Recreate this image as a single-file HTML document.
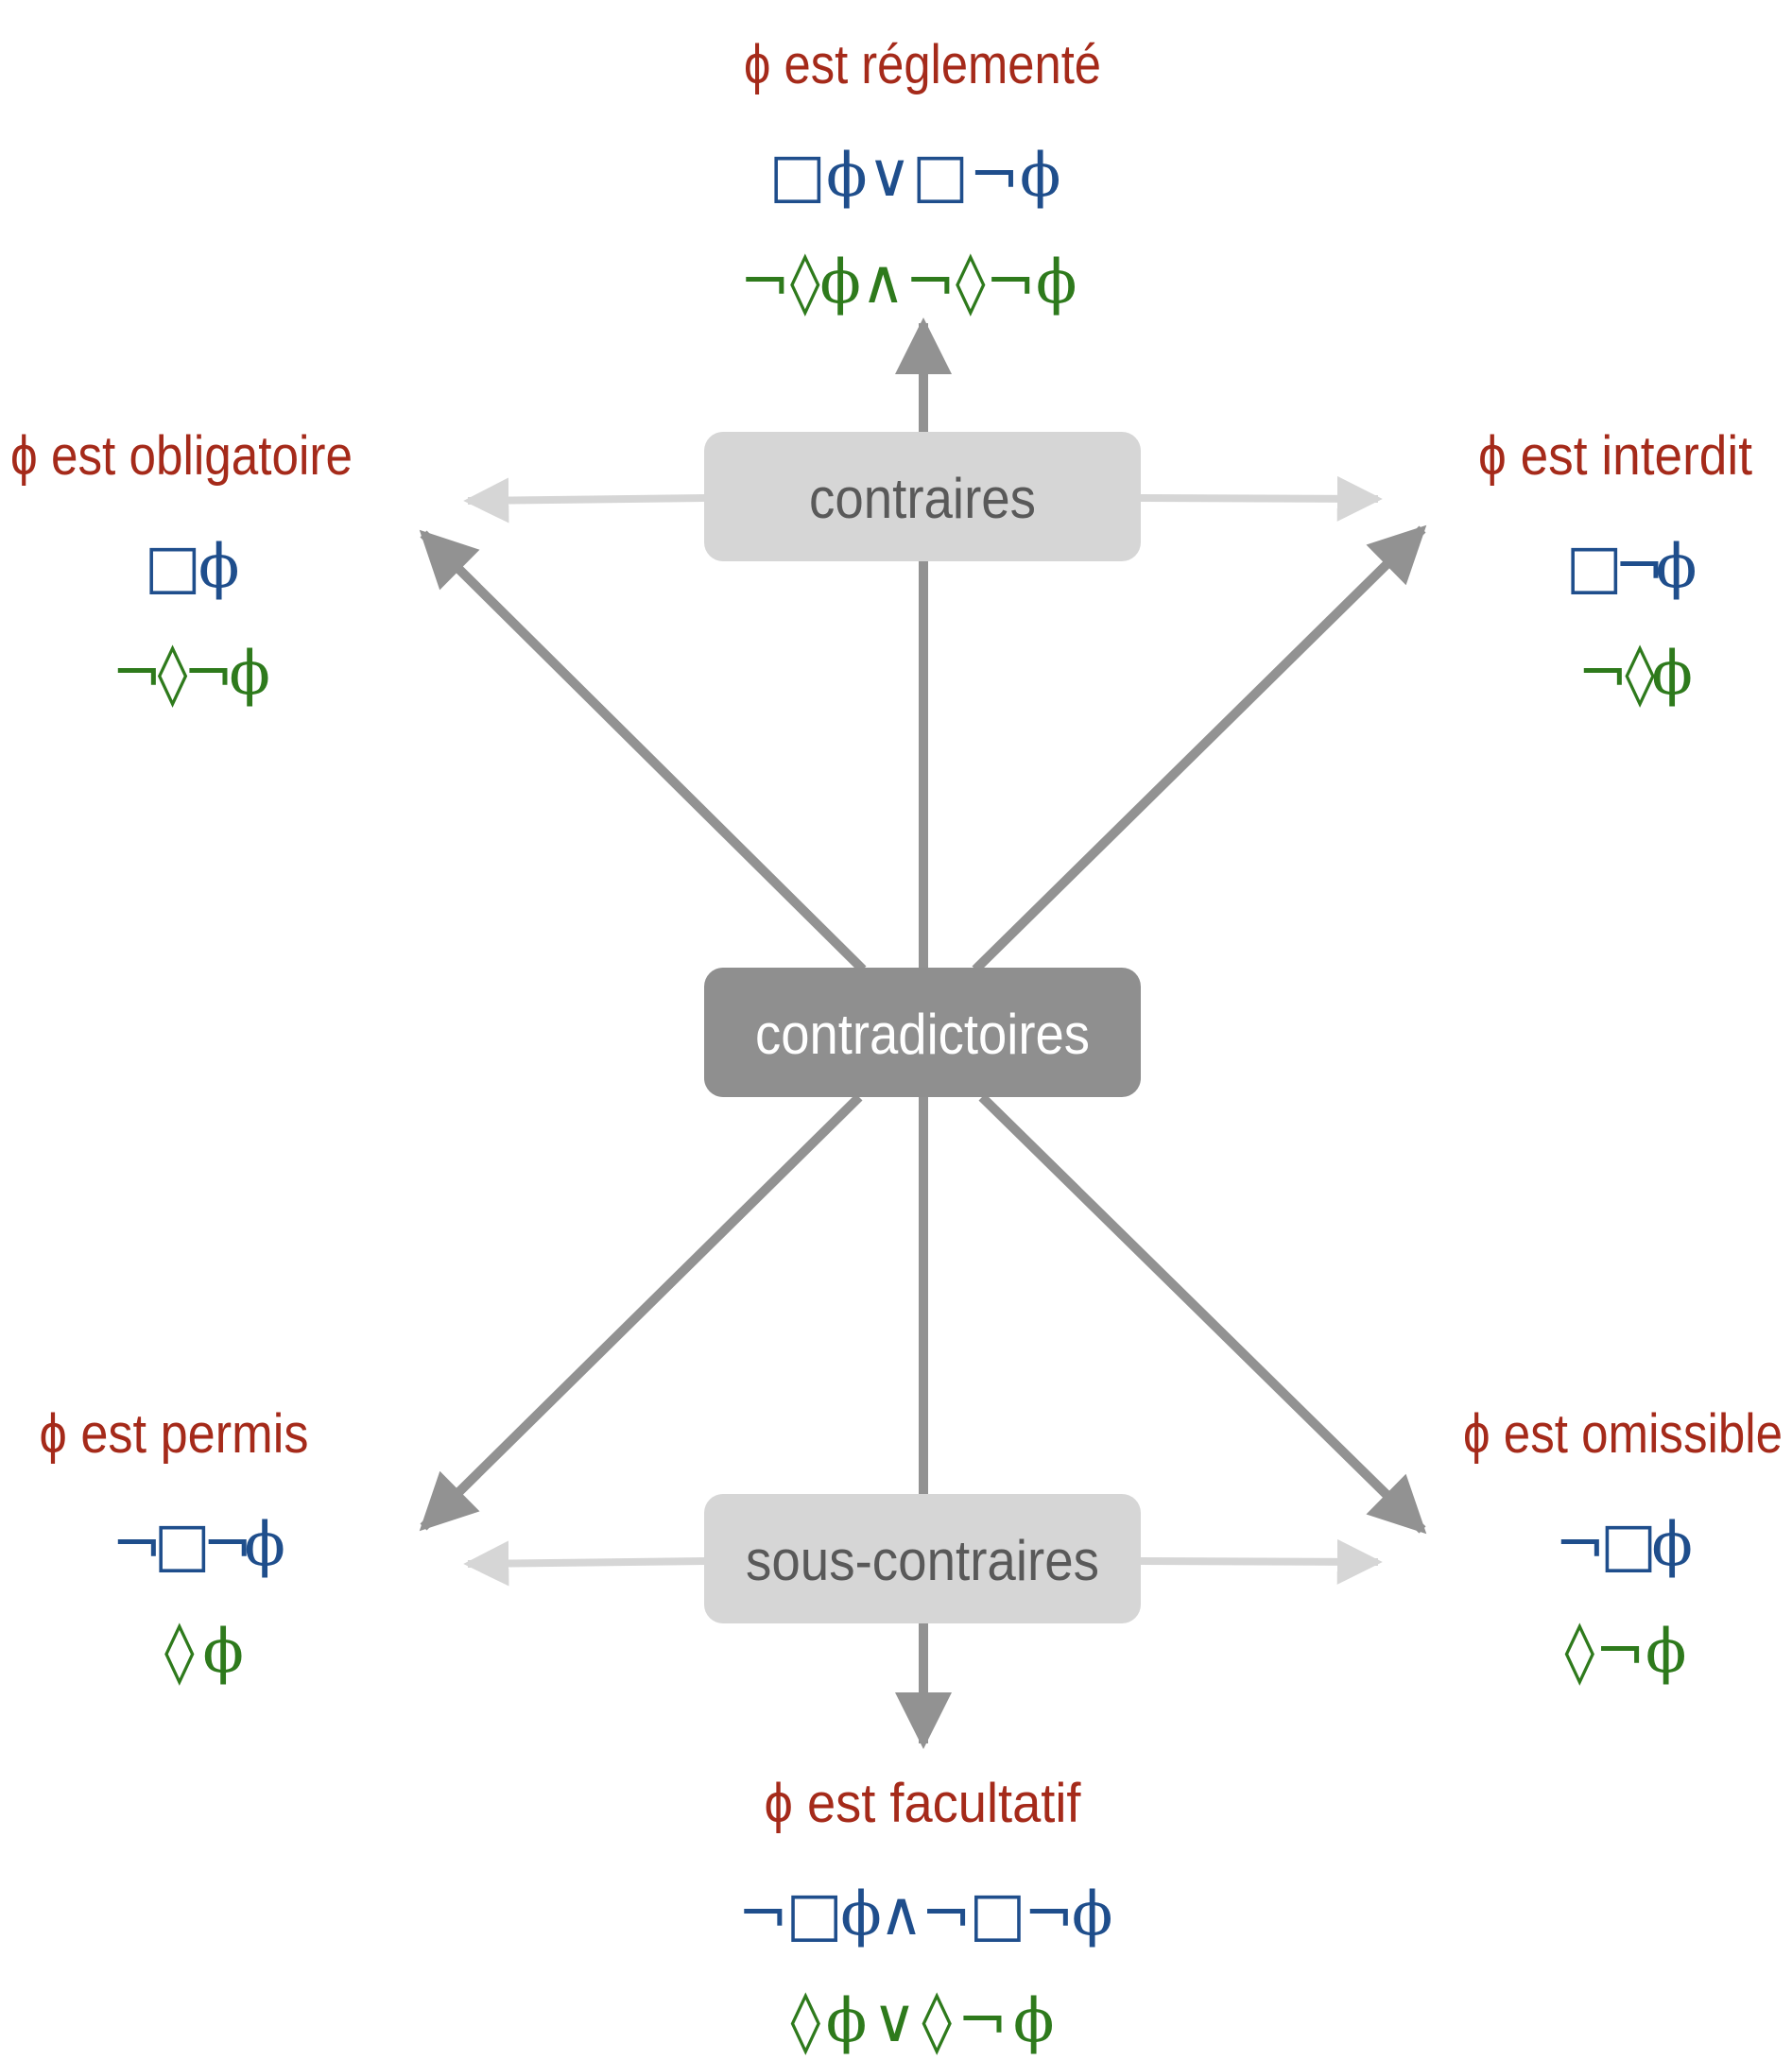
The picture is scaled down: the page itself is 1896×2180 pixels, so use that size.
<!DOCTYPE html>
<html><head><meta charset="utf-8"><style>
html,body{margin:0;padding:0;background:#fff;}
svg{display:block}
.r{fill:#a52a1a;font-family:"Liberation Sans Narrow","Liberation Sans",sans-serif;font-size:58px;}
.b{fill:#1f4e8c;font-family:"DejaVu Serif","Liberation Serif",serif;font-size:64px;}
.g{fill:#2e7a1c;font-family:"DejaVu Serif","Liberation Serif",serif;font-size:64px;}
.bx{font-family:"Liberation Sans Narrow","Liberation Sans",sans-serif;font-size:60px;}
</style></head><body>
<svg width="1896" height="2180" viewBox="0 0 1896 2180" xmlns="http://www.w3.org/2000/svg">
<defs>
<marker id="hd" viewBox="0 0 10 10" refX="9" refY="5" markerWidth="7" markerHeight="6" markerUnits="strokeWidth" orient="auto"><path d="M0,0 L10,5 L0,10 Z" fill="#929292"/></marker>
<marker id="hl" viewBox="0 0 10 10" refX="9" refY="5" markerWidth="6" markerHeight="6" markerUnits="strokeWidth" orient="auto"><path d="M0,0 L10,5 L0,10 Z" fill="#d6d6d6"/></marker>
</defs>
<g stroke="#d6d6d6" stroke-width="8" fill="none">
<line x1="747" y1="527" x2="495" y2="530" marker-end="url(#hl)"/>
<line x1="1207" y1="527" x2="1458" y2="528" marker-end="url(#hl)"/>
<line x1="747" y1="1652" x2="495" y2="1655" marker-end="url(#hl)"/>
<line x1="1207" y1="1652" x2="1458" y2="1653" marker-end="url(#hl)"/>
</g>
<g stroke="#929292" stroke-width="10" fill="none">
<line x1="977" y1="457" x2="977" y2="342" marker-end="url(#hd)"/>
<line x1="977" y1="594" x2="977" y2="1026"/>
<line x1="977" y1="1161" x2="977" y2="1584"/>
<line x1="977" y1="1717" x2="977" y2="1845" marker-end="url(#hd)"/>
<line x1="913" y1="1026" x2="448" y2="565" marker-end="url(#hd)"/>
<line x1="1032" y1="1026" x2="1505" y2="560" marker-end="url(#hd)"/>
<line x1="909" y1="1161" x2="448" y2="1616" marker-end="url(#hd)"/>
<line x1="1039" y1="1161" x2="1505" y2="1619" marker-end="url(#hd)"/>
</g>
<g><rect x="745" y="457" width="462" height="137" rx="20" fill="#d6d6d6"/><text class="bx" x="976" y="548" text-anchor="middle" fill="#595959" textLength="240" lengthAdjust="spacingAndGlyphs">contraires</text></g>
<g><rect x="745" y="1024" width="462" height="137" rx="20" fill="#8f8f8f"/><text class="bx" x="976" y="1115" text-anchor="middle" fill="#fff" textLength="354" lengthAdjust="spacingAndGlyphs">contradictoires</text></g>
<g><rect x="745" y="1581" width="462" height="137" rx="20" fill="#d6d6d6"/><text class="bx" x="976" y="1672" text-anchor="middle" fill="#595959" textLength="374" lengthAdjust="spacingAndGlyphs">sous-contraires</text></g>

<g text-anchor="middle">
<g>
<text class="r" x="976" y="88" textLength="378" lengthAdjust="spacingAndGlyphs">ϕ est réglementé</text>
<text class="b" x="968" y="207" textLength="309" lengthAdjust="spacing">□ϕ∨□¬ϕ</text>
<text class="g" x="961" y="320" textLength="357" lengthAdjust="spacing">¬◊ϕ∧¬◊¬ϕ</text></g>
<g>
<text class="r" x="192" y="502" textLength="362" lengthAdjust="spacingAndGlyphs">ϕ est obligatoire</text>
<text class="b" x="203" y="621" textLength="101" lengthAdjust="spacing">□ϕ</text>
<text class="g" x="202" y="734" textLength="168" lengthAdjust="spacing">¬◊¬ϕ</text></g>
<g>
<text class="r" x="1709" y="502" textLength="290" lengthAdjust="spacingAndGlyphs">ϕ est interdit</text>
<text class="b" x="1726" y="621" textLength="139" lengthAdjust="spacing">□¬ϕ</text>
<text class="g" x="1730" y="734" textLength="122" lengthAdjust="spacing">¬◊ϕ</text></g>
<g>
<text class="r" x="184" y="1537" textLength="285" lengthAdjust="spacingAndGlyphs">ϕ est permis</text>
<text class="b" x="210" y="1656" textLength="184" lengthAdjust="spacing">¬□¬ϕ</text>
<text class="g" x="216" y="1769" textLength="84" lengthAdjust="spacing">◊ϕ</text></g>
<g>
<text class="r" x="1717" y="1537" textLength="338" lengthAdjust="spacingAndGlyphs">ϕ est omissible</text>
<text class="b" x="1718" y="1656" textLength="146" lengthAdjust="spacing">¬□ϕ</text>
<text class="g" x="1720" y="1769" textLength="129" lengthAdjust="spacing">◊¬ϕ</text></g>
<g>
<text class="r" x="976" y="1928" textLength="335" lengthAdjust="spacingAndGlyphs">ϕ est facultatif</text>
<text class="b" x="979" y="2047" textLength="397" lengthAdjust="spacing">¬□ϕ∧¬□¬ϕ</text>
<text class="g" x="976" y="2160" textLength="279" lengthAdjust="spacing">◊ϕ∨◊¬ϕ</text></g>
</g>
</svg>
</body></html>
